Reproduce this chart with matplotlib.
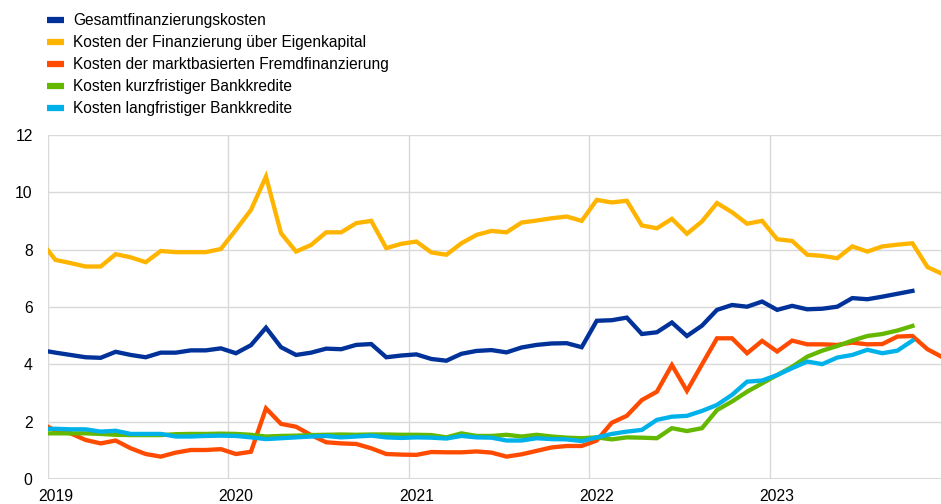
import numpy as np
import matplotlib
matplotlib.use("Agg")
import matplotlib.pyplot as plt
from matplotlib.lines import Line2D

plt.rcParams['font.family'] = ['Liberation Sans', 'DejaVu Sans']

# monthly observations, Dec 2018 .. Dec 2023 (index 0 = Dec 2018)
gesamt = [4.50, 4.41, 4.33, 4.25, 4.23, 4.44, 4.33, 4.25, 4.41, 4.41, 4.49, 4.49, 4.56,
          4.39, 4.67, 5.28, 4.60, 4.33, 4.41, 4.55, 4.53, 4.68, 4.71, 4.25, 4.31,
          4.35, 4.19, 4.13, 4.37, 4.47, 4.50, 4.42, 4.59, 4.68, 4.73, 4.74, 4.60,
          5.52, 5.54, 5.63, 5.06, 5.12, 5.46, 4.99, 5.35, 5.90, 6.07, 6.01, 6.19,
          5.90, 6.04, 5.92, 5.94, 6.01, 6.31, 6.27, 6.36, 6.46, 6.56]
eigenkapital = [8.30, 7.64, 7.53, 7.41, 7.41, 7.84, 7.73, 7.56, 7.95, 7.91, 7.91, 7.91, 8.02,
                8.69, 9.38, 10.54, 8.57, 7.93, 8.16, 8.60, 8.60, 8.92, 9.00, 8.05, 8.20,
                8.28, 7.90, 7.82, 8.22, 8.51, 8.65, 8.60, 8.94, 9.01, 9.09, 9.15, 9.00,
                9.73, 9.64, 9.70, 8.84, 8.74, 9.07, 8.55, 8.98, 9.62, 9.30, 8.90, 9.00,
                8.36, 8.30, 7.82, 7.78, 7.70, 8.11, 7.93, 8.11, 8.17, 8.22, 7.39, 7.15]
markt = [1.97, 1.69, 1.60, 1.37, 1.25, 1.35, 1.08, 0.88, 0.79, 0.93, 1.02, 1.02, 1.05,
         0.88, 0.96, 2.47, 1.93, 1.83, 1.54, 1.29, 1.25, 1.23, 1.08, 0.88, 0.86,
         0.85, 0.95, 0.94, 0.94, 0.97, 0.93, 0.79, 0.87, 0.99, 1.11, 1.16, 1.16,
         1.35, 1.97, 2.21, 2.76, 3.05, 3.98, 3.08, 4.00, 4.91, 4.91, 4.39, 4.82,
         4.45, 4.83, 4.70, 4.70, 4.68, 4.76, 4.70, 4.71, 4.97, 4.99, 4.53, 4.25]
kurz = [1.60, 1.60, 1.60, 1.60, 1.58, 1.55, 1.54, 1.54, 1.54, 1.57, 1.58, 1.58, 1.59,
        1.58, 1.55, 1.49, 1.51, 1.52, 1.54, 1.55, 1.56, 1.55, 1.56, 1.56, 1.55,
        1.55, 1.54, 1.46, 1.60, 1.51, 1.51, 1.55, 1.49, 1.55, 1.49, 1.45, 1.43,
        1.46, 1.39, 1.46, 1.45, 1.43, 1.78, 1.68, 1.78, 2.41, 2.71, 3.05, 3.34,
        3.63, 3.92, 4.27, 4.48, 4.64, 4.83, 4.99, 5.06, 5.18, 5.34]
lang = [1.75, 1.76, 1.74, 1.74, 1.66, 1.69, 1.58, 1.58, 1.58, 1.49, 1.49, 1.51, 1.52,
        1.51, 1.46, 1.40, 1.43, 1.46, 1.49, 1.51, 1.46, 1.49, 1.52, 1.46, 1.44,
        1.46, 1.45, 1.42, 1.51, 1.46, 1.45, 1.35, 1.35, 1.43, 1.40, 1.39, 1.33,
        1.46, 1.58, 1.66, 1.72, 2.07, 2.18, 2.21, 2.38, 2.59, 2.94, 3.40, 3.44,
        3.63, 3.87, 4.10, 4.01, 4.24, 4.33, 4.51, 4.39, 4.48, 4.83]

labels = ["Gesamtfinanzierungskosten",
          "Kosten der Finanzierung über Eigenkapital",
          "Kosten der marktbasierten Fremdfinanzierung",
          "Kosten kurzfristiger Bankkredite",
          "Kosten langfristiger Bankkredite"]
colors = ["#003299", "#FFB400", "#FF4B00", "#65B800", "#00B1EA"]
years = ["2019", "2020", "2021", "2022", "2023"]

fig = plt.figure(figsize=(9.41, 5.04), dpi=100)
ax = fig.add_axes([48 / 941, (504 - 479.3) / 504, 1 - 48 / 941, (479.3 - 134.7) / 504])

series = [gesamt, eigenkapital, markt, kurz, lang]
for s, c in zip(series, colors):
    # months counted from Jan 2019, points drawn mid-month
    x = np.arange(len(s)) - 1 + 0.5
    ax.plot(x, s, color=c, lw=3.1, solid_joinstyle='miter', clip_on=True)

ax.set_xlim(0, 59.4)
ax.set_ylim(0, 12)
ax.set_yticks(range(0, 13, 2))
# gridlines at year boundaries, labels under mid-January
ax.set_xticks(np.arange(len(years)) * 12)
ax.set_xticklabels([])
ax.set_xticks(np.arange(len(years)) * 12 + 0.5, minor=True)
ax.set_xticklabels(years, minor=True)
ax.grid(True, which='major', color="#d9d9d9", lw=1)
ax.set_axisbelow(True)
for sp in ax.spines.values():
    sp.set_visible(False)
ax.axhline(0, color="#d9d9d9", lw=1.5, zorder=0)
ax.tick_params(which='both', length=0, labelsize=11.3, colors="#000000", pad=7)
ax.tick_params(axis='y', pad=11)

handles = [Line2D([0], [0], color=c, lw=4.5, solid_capstyle='butt') for c in colors]
fig.legend(handles, labels, loc="upper left", bbox_to_anchor=(41 / 941, 1 - 7 / 504),
           frameon=False, fontsize=11.2, handlelength=1.05, handletextpad=0.6,
           labelspacing=0.45, borderaxespad=0)

fig.savefig("out.png", dpi=100)
